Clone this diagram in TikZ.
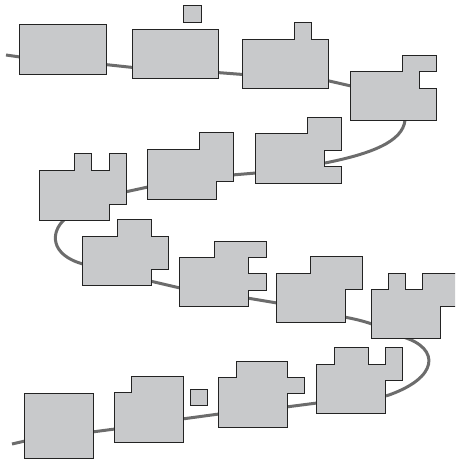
\documentclass[tikz,border=0pt]{standalone}
\definecolor{blkfill}{RGB}{200,201,203}
\definecolor{blkline}{RGB}{35,35,35}
\definecolor{connc}{RGB}{108,108,108}
\begin{document}
\begin{tikzpicture}[x=1pt,y=-1pt,
  blk/.style={draw=blkline, fill=blkfill, line width=1pt, line join=miter},
  conn/.style={draw=connc, line width=3pt}]
\useasboundingbox (0,0) rectangle (455,462);
\clip (0,0) rectangle (455,462);
% connector anchor coordinates
\coordinate (s0) at (6,55);
\coordinate (a1) at (20,57);
\coordinate (a2) at (105,64.5);
\coordinate (b1) at (133,67.5);
\coordinate (b2) at (217,72.5);
\coordinate (c1) at (243,74.5);
\coordinate (c2) at (327,80.5);
\coordinate (d1) at (351,86);
\coordinate (d2) at (405,120);
\coordinate (g2) at (325,163);
\coordinate (g1) at (256,173);
\coordinate (f2) at (232,175);
\coordinate (f1) at (148,187);
\coordinate (e2) at (125,192);
\coordinate (e1) at (65,219);
\coordinate (h1) at (83,264);
\coordinate (h2) at (150,281);
\coordinate (i1) at (180,288);
\coordinate (i2) at (247,298);
\coordinate (j1) at (277,303);
\coordinate (j2) at (344,317);
\coordinate (k1) at (372,324);
\coordinate (k2) at (403,337);
\coordinate (n2) at (386,396);
\coordinate (n1) at (317,403);
\coordinate (m2) at (286,407);
\coordinate (m1) at (219,414);
\coordinate (p2) at (182,419);
\coordinate (p1) at (115,429);
\coordinate (q2) at (92,432);
\coordinate (q1) at (25,441);
\coordinate (s1) at (12,444);
% connectors
\draw[conn] (s0) -- (a1);
\draw[conn] (a2) -- (b1);
\draw[conn] (b2) -- (c1);
\draw[conn] (c2) -- (d1);
\draw[conn] (d2) .. controls (403,142) and (370,154) .. (g2);
\draw[conn] (g1) -- (f2);
\draw[conn] (f1) -- (e2);
\draw[conn] (e1) .. controls (50,232) and (50,255) .. (h1);
\draw[conn] (h2) -- (i1);
\draw[conn] (i2) -- (j1);
\draw[conn] (j2) .. controls (355,319) and (363,321) .. (k1);
\draw[conn] (k2) .. controls (440,348) and (440,378) .. (n2);
\draw[conn] (n1) -- (m2);
\draw[conn] (m1) -- (p2);
\draw[conn] (p1) -- (q2);
\draw[conn] (q1) -- (s1);
% blocks
\draw[blk] (19,25) rectangle (106,75);
\draw[blk] (132,30) rectangle (218,79);
\draw[blk] (183,6) rectangle (201,23);
\draw[blk] (242,40)--(294,40)--(294,23)--(311,23)--(311,40)--(328,40)--(328,89)--(242,89)--cycle;
\draw[blk] (350,72)--(402,72)--(402,56)--(436,56)--(436,72)--(419,72)--(419,89)--(436,89)--(436,121)--(350,121)--cycle;
\draw[blk] (39,171)--(74,171)--(74,154)--(91,154)--(91,171)--(109,171)--(109,154)--(126,154)--(126,204)--(109,204)--(109,220)--(39,220)--cycle;
\draw[blk] (147,150)--(199,150)--(199,133)--(233,133)--(233,182)--(216,182)--(216,199)--(147,199)--cycle;
\draw[blk] (255,134)--(307,134)--(307,118)--(341,118)--(341,151)--(324,151)--(324,167)--(341,167)--(341,184)--(255,184)--cycle;
\draw[blk] (82,236)--(117,236)--(117,219)--(151,219)--(151,236)--(168,236)--(168,269)--(151,269)--(151,285)--(82,285)--cycle;
\draw[blk] (179,257)--(214,257)--(214,241)--(266,241)--(266,257)--(248,257)--(248,273)--(266,273)--(266,290)--(248,290)--(248,306)--(179,306)--cycle;
\draw[blk] (276,273)--(310,273)--(310,256)--(362,256)--(362,289)--(345,289)--(345,322)--(276,322)--cycle;
\draw[blk] (371,289)--(388,289)--(388,273)--(405,273)--(405,289)--(422,289)--(422,273)--(460,273)--(460,306)--(440,306)--(440,338)--(371,338)--cycle;
\draw[blk] (316,364)--(334,364)--(334,347)--(368,347)--(368,364)--(385,364)--(385,347)--(402,347)--(402,380)--(385,380)--(385,413)--(316,413)--cycle;
\draw[blk] (218,377)--(236,377)--(236,361)--(287,361)--(287,377)--(304,377)--(304,393)--(287,393)--(287,427)--(218,427)--cycle;
\draw[blk] (190,389) rectangle (207,405);
\draw[blk] (114,392)--(131,392)--(131,376)--(183,376)--(183,442)--(114,442)--cycle;
\draw[blk] (24,393) rectangle (93,458);
\end{tikzpicture}
\end{document}
